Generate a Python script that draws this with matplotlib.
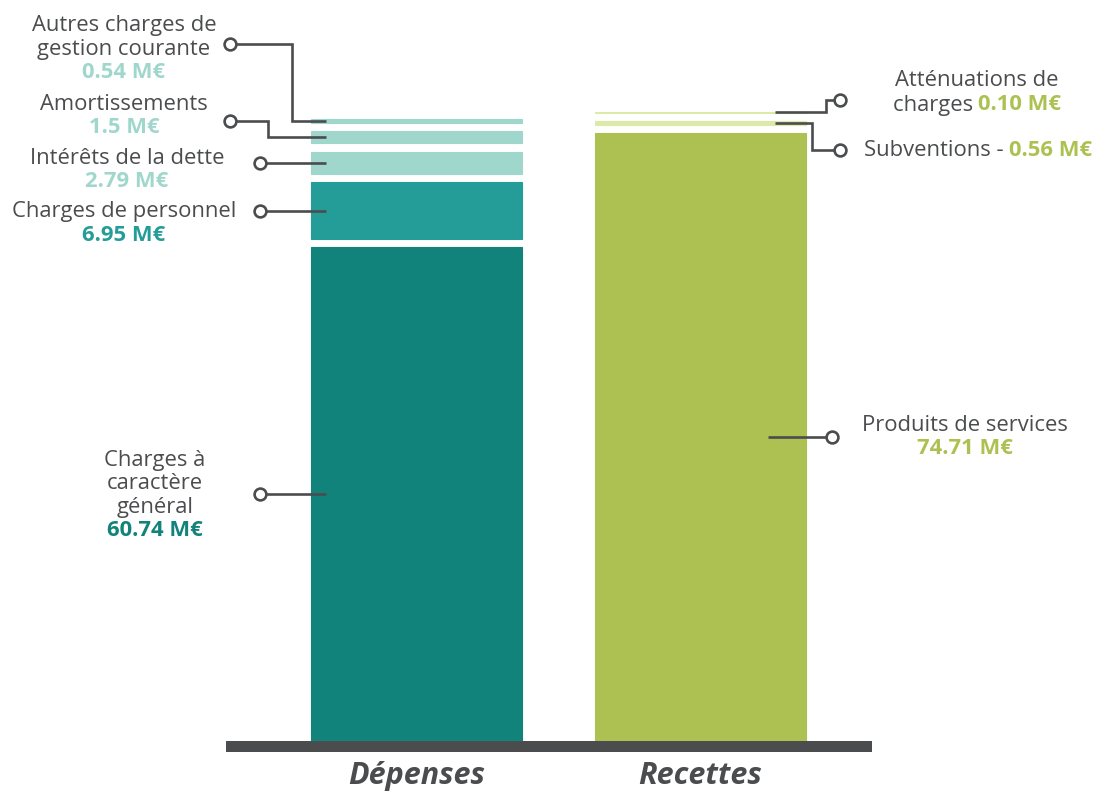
import matplotlib
matplotlib.use("Agg")
import matplotlib.pyplot as plt
from matplotlib.patches import Rectangle

plt.rcParams['font.family'] = ['Open Sans', 'DejaVu Sans']

# ---- data (M€) ----
categories = ["Dépenses", "Recettes"]

dep_labels = ["Charges à\ncaractère\ngénéral", "Charges de personnel",
              "Intérêts de la dette", "Amortissements",
              "Autres charges de\ngestion courante"]
dep_values = [60.74, 6.95, 2.79, 1.5, 0.54]
dep_values_txt = ["60.74 M€", "6.95 M€", "2.79 M€", "1.5 M€", "0.54 M€"]

rec_labels = ["Produits de services", "Subventions - ", "Atténuations de\ncharges "]
rec_values = [74.71, 0.56, 0.10]
rec_values_txt = ["74.71 M€", "0.56 M€", "0.10 M€"]

dep_colors = ["#12837a", "#249d99", "#a0d7cd", "#a0d7cd", "#a0d7cd"]
rec_colors = ["#adc152", "#dde9a9", "#dde9a9"]
txt_gray = "#4b4c4e"
line_gray = "#4b4c4e"

W, H = 1103, 793
fig = plt.figure(figsize=(W / 100, H / 100), dpi=100)

# main axes: baseline at 741 px from top, spanning x 226..872 px
ax = fig.add_axes([226 / W, (H - 741) / H, (872 - 226) / W, 741 / H])
unit_x = 284.0
ax.set_xlim(-190.5 / unit_x, (646 - 190.5) / unit_x)
ax.set_ylim(0, 741 / 8.133)
ax.axis("off")

gap = 1.0
bar_w = 211 / unit_x


def stack(xpos, values, colors):
    mids = []
    bottom = 0.0
    for v, c in zip(values, colors):
        ax.bar(xpos, v, bottom=bottom, width=bar_w, color=c,
               edgecolor=c, linewidth=0.8)
        mids.append(bottom + v / 2)
        bottom += v + gap
    return mids


dep_mids = stack(0, dep_values, dep_colors)
rec_mids = stack(1, rec_values, rec_colors)

# overlay in figure pixels (y downward) for labels and connectors
ov = fig.add_axes([0, 0, 1, 1], zorder=5)
ov.set_xlim(0, W)
ov.set_ylim(H, 0)
ov.axis("off")


def to_px(x, y):
    dx, dy = ax.transData.transform((x, y))
    return dx, H - dy


# baseline
ov.add_patch(Rectangle((226, 741), 872 - 226, 11, color="#4b4c4e", lw=0))

for i, cat in enumerate(categories):
    cx, _ = to_px(i, 0)
    ov.text(cx, 776, cat, ha="center", va="center", fontsize=22,
            fontstyle="italic", fontweight="bold", color=txt_gray)


def connector(circle, elbow_x, seg_y, inner_x):
    cx, cy = circle
    if elbow_x is None or abs(cy - seg_y) < 0.5:
        xs, ys = [cx, inner_x], [cy, cy]
    else:
        xs = [cx, elbow_x, elbow_x, inner_x]
        ys = [cy, cy, seg_y, seg_y]
    ov.plot(xs, ys, color=line_gray, lw=1.9, solid_joinstyle="miter",
            solid_capstyle="butt", zorder=6)
    ov.plot([cx], [cy], marker="o", ms=8.5, mfc="white", mec=line_gray,
            mew=1.9, zorder=7)


fs = 15.8
lh = 23.5


def label_block(x, y_first, text, value, vcolor):
    """Gray name lines followed by a bold coloured value line."""
    lines = text.split("\n")
    for k, ln in enumerate(lines):
        ov.text(x, y_first + k * lh, ln, ha="center", va="center",
                fontsize=fs, color=txt_gray)
    ov.text(x, y_first + len(lines) * lh, value, ha="center", va="center",
            fontsize=fs, fontweight="bold", color=vcolor)


# --- Dépenses labels (left) ---
seg = [to_px(0, m)[1] for m in dep_mids]
inner_dep = 326

# Charges à caractère général
y0 = seg[0]
connector((260, y0), None, y0, inner_dep)
label_block(155, y0 - 34, dep_labels[0], dep_values_txt[0], dep_colors[0])

# Charges de personnel
y1 = seg[1]
connector((260, y1), None, y1, inner_dep)
label_block(124, y1 + 1, dep_labels[1], dep_values_txt[1], dep_colors[1])

# Intérêts de la dette
y2 = seg[2]
connector((260, y2), None, y2, inner_dep)
label_block(127, 158, dep_labels[2], dep_values_txt[2], dep_colors[2])

# Amortissements
connector((230, 121), 268, seg[3], inner_dep)
label_block(124, 104, dep_labels[3], dep_values_txt[3], dep_colors[3])

# Autres charges de gestion courante
connector((230, 44), 292, seg[4], inner_dep)
label_block(124, 26, dep_labels[4], dep_values_txt[4], dep_colors[4])

# --- Recettes labels (right) ---
rseg = [to_px(1, m)[1] for m in rec_mids]
inner_rec = 775

# Produits de services
yp = rseg[0]
connector((832, yp), None, yp, 768)
label_block(965, yp - 12, rec_labels[0], rec_values_txt[0], rec_colors[0])

fig.canvas.draw()
renderer = fig.canvas.get_renderer()


def two_color(x, y, a, b, bcolor, ha="left"):
    t1 = ov.text(x, y, a, ha="left", va="center", fontsize=fs, color=txt_gray)
    t2 = ov.text(x, y, b, ha="left", va="center", fontsize=fs,
                 fontweight="bold", color=bcolor)
    w1 = t1.get_window_extent(renderer).width
    w2 = t2.get_window_extent(renderer).width
    start = x - (w1 + w2) / 2 if ha == "center" else x
    t1.set_x(start)
    t2.set_x(start + w1)


# Subventions
ys = 150
connector((840, ys), 812, rseg[1], inner_rec)
two_color(864, ys, rec_labels[1], rec_values_txt[1], "#adc152")

# Atténuations de charges
ya = 100
connector((840, ya), 826, rseg[2], inner_rec)
first, second = rec_labels[2].split("\n")
ov.text(977, ya - 19, first, ha="center", va="center", fontsize=fs,
        color=txt_gray)
two_color(977, ya + 5, second, rec_values_txt[2], "#adc152", ha="center")

fig.savefig("out.png", dpi=100)
